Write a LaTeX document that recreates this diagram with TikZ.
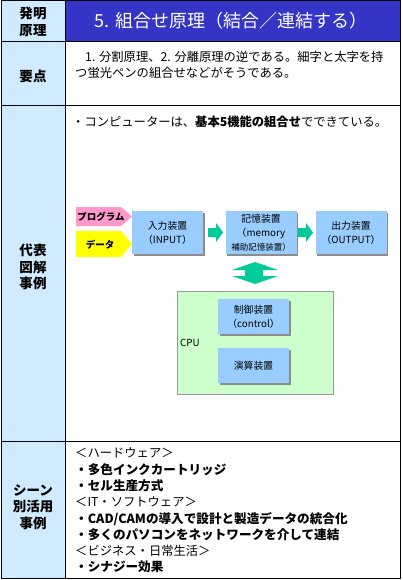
\documentclass[tikz,border=0pt]{standalone}
\usepackage{fontspec}
\setmainfont{Noto Sans CJK JP}
\usetikzlibrary{shadows}
\definecolor{leftblue}{HTML}{D0EBFF}
\definecolor{headblue}{HTML}{3434C6}
\definecolor{boxblue}{HTML}{99CCFF}
\definecolor{cpugreen}{HTML}{CCFFCC}
\definecolor{pinkfill}{HTML}{FF99CC}
\definecolor{yellowfill}{HTML}{FFFF00}
\definecolor{arrowgreen}{HTML}{00CC99}
\begin{document}
\begin{tikzpicture}[x=1pt,y=-1pt,
  lab/.style={font=\fontsize{13.5}{16.5}\selectfont\bfseries, align=center, inner sep=0},
  txt/.style={anchor=base west, font=\fontsize{12.3}{16}\selectfont, inner sep=0},
  btxt/.style={txt, font=\fontsize{12.6}{16}\selectfont\bfseries},
  bx/.style={fill=boxblue, minimum width=71, minimum height=43, inner sep=0, align=center,
     font=\fontsize{9.8}{14}\selectfont,
     drop shadow={shadow xshift=1.5pt, shadow yshift=-1.5pt, fill=black!45, opacity=1}},
  tag/.style={font=\fontsize{9.5}{11}\selectfont\bfseries, inner sep=0},
  blockarrow/.style={fill=arrowgreen, draw=none}]
\useasboundingbox (0,0) rectangle (402,580);
% backgrounds
\fill[white] (1,1) rectangle (400,578);
\fill[leftblue] (1,1) rectangle (65,578);
\fill[headblue] (65,1) rectangle (400,42);
% grid lines
\draw[line width=1] (1,1) rectangle (400,578);
\draw[line width=1] (65,1) -- (65,578);
\draw[line width=1] (1,42) -- (400,42);
\draw[line width=1] (1,106) -- (400,106);
\draw[line width=1] (1,441) -- (400,441);
% left labels
\node[lab] (l1) at (33,22) {発明\\原理};
\node[lab] (l2) at (33,76) {要点};
\node[lab] (l3) at (33,267) {代表\\図解\\事例};
\node[lab] (l4) at (33,507) {シーン\\別活用\\事例};
% title
\node[font=\fontsize{18}{20}\selectfont, text=white, inner sep=0] (title) at (231,21) {5. 組合せ原理（結合／連結する）};
% key points
\node[txt] (k1) at (85,61.5) {1. 分割原理、2. 分離原理の逆である。細字と太字を持};
\node[txt] (k2) at (75,77.5) {つ蛍光ペンの組合せなどがそうである。};
% diagram heading
\node[txt] (d0) at (72,126.5) {・コンピューターは、\textbf{基本5機能の組合せ}でできている。};
% input tags
\fill[pinkfill] (76,207) -- (121,207) -- (132,216.5) -- (121,226) -- (76,226) -- cycle;
\node[tag] (prog) at (101,217) {プログラム};
\fill[yellowfill] (76,231) -- (121,231) -- (132,244) -- (121,257) -- (76,257) -- cycle;
\node[tag] (data) at (100,245) {データ};
% main boxes
\node[bx] (in) at (167.5,232.5) {入力装置\\（INPUT）};
\node[bx] (mem) at (261,232.5) {記憶装置\\（memory\\{\fontsize{8.5}{10}\selectfont 補助記憶装置）}};
\node[bx] (out) at (351,232.5) {出力装置\\（OUTPUT）};
% right arrows
\fill[blockarrow] (208,228) -- (216,228) -- (216,223) -- (223,232.5) -- (216,242) -- (216,237) -- (208,237) -- cycle;
\fill[blockarrow] (298,228) -- (306,228) -- (306,223) -- (313,232.5) -- (306,242) -- (306,237) -- (298,237) -- cycle;
% up-down arrow
\fill[blockarrow] (255,262) -- (278,270) -- (263,270) -- (263,276) -- (278,276) -- (255,284) -- (232,276) -- (245,276) -- (245,270) -- (232,270) -- cycle;
% CPU
\node[draw=black!40, fill=cpugreen, minimum width=156, minimum height=103, inner sep=0] (cpu) at (255,342.5) {};
\node[font=\fontsize{9.8}{11}\selectfont, anchor=west, inner sep=0] (cpulab) at (180,343) {CPU};
\node[bx, minimum height=35] (ctl) at (253.5,316.5) {制御装置\\（control）};
\node[bx, minimum height=35] (alu) at (253.5,365.5) {演算装置};
% scene examples
\node[txt] (s1) at (75,457.5) {＜ハードウェア＞};
\node[btxt] (s2) at (75,474.5) {・多色インクカートリッジ};
\node[btxt] (s3) at (75,490.5) {・セル生産方式};
\node[txt] (s4) at (75,506.5) {＜IT・ソフトウェア＞};
\node[btxt] (s5) at (75,523.5) {・CAD/CAMの導入で設計と製造データの統合化};
\node[btxt] (s6) at (75,539.5) {・多くのパソコンをネットワークを介して連結};
\node[txt] (s7) at (75,555.5) {＜ビジネス・日常生活＞};
\node[btxt] (s8) at (75,571.5) {・シナジー効果};
\end{tikzpicture}
\end{document}
